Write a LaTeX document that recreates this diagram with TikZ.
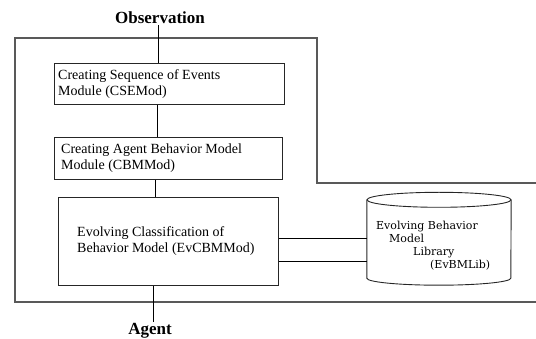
\documentclass[tikz,border=0pt]{standalone}
\usepackage{fontspec}
\setmainfont{Liberation Serif}
\newfontfamily\cylfont{DejaVu Serif}
\begin{document}
\begin{tikzpicture}[x=1pt,y=-1pt,
  modbox/.style={draw=black!85, line width=0.9pt, rectangle, inner sep=0pt},
  modtxt/.style={font=\fontsize{14}{16}\selectfont, align=left, inner sep=0pt, anchor=west},
  cyltxt/.style={font=\cylfont\fontsize{11}{13}\selectfont, inner sep=0pt, anchor=base west},
  boldlbl/.style={font=\bfseries\fontsize{17}{19}\selectfont, inner sep=1pt},
  conn/.style={draw=black, line width=0.9pt},
  frame/.style={draw=black!65, line width=1.3pt}]
\useasboundingbox (0,0) rectangle (536,339);
% outer frame
\draw[frame] (536,183) -- (317,183) -- (317,38) -- (15,38) -- (15,302) -- (536,302);
% modules
\node[modbox, minimum width=230pt, minimum height=41pt, anchor=north west] (cse) at (54,63) {};
\node[modtxt] (cset) at ([xshift=4pt]cse.west) {Creating Sequence of Events\\Module (CSEMod)};
\node[modbox, minimum width=228pt, minimum height=42pt, anchor=north west] (cbm) at (54,137) {};
\node[modtxt] (cbmt) at ([xshift=7pt]cbm.west) {Creating Agent Behavior Model\\Module (CBMMod)};
\node[modbox, minimum width=220pt, minimum height=88pt, anchor=north west] (ev) at (58,197) {};
\node[modtxt] (evt) at ([xshift=19pt]ev.west) {Evolving Classification of\\Behavior Model (EvCBMMod)};
% library cylinder
\node[inner sep=0pt, minimum width=144pt, minimum height=78pt] (lib) at (439,239) {};
\draw[black!85, line width=0.9pt] (lib.north west) -- (lib.south west)
  arc[start angle=180, end angle=360, x radius=72pt, y radius=7pt] -- (lib.north east);
\draw[black!85, line width=0.9pt] (lib.north) ellipse[x radius=72pt, y radius=7.5pt];
\node[cyltxt] (l1) at (376,230) {Evolving Behavior};
\node[cyltxt] (l2) at (389,243) {Model};
\node[cyltxt] (l3) at (413,256) {Library};
\node[cyltxt] (l4) at (430,269) {(EvBMLib)};
% labels
\node[boldlbl] (obs) at (160,18) {Observation};
\node[boldlbl] (agent) at (150,331) {Agent};
% connectors
\draw[conn] (158,0 |- obs.south) -- (158,0 |- cse.north);
\draw[conn] (157,0 |- cse.south) -- (157,0 |- cbm.north);
\draw[conn] (155,0 |- cbm.south) -- (155,0 |- ev.north);
\draw[conn] (153,0 |- ev.south) -- (153,0 |- agent.north);
\draw[conn] (ev.east |- 0,238) -- (lib.west |- 0,238);
\draw[conn] (ev.east |- 0,261) -- (lib.west |- 0,261);
\end{tikzpicture}
\end{document}
